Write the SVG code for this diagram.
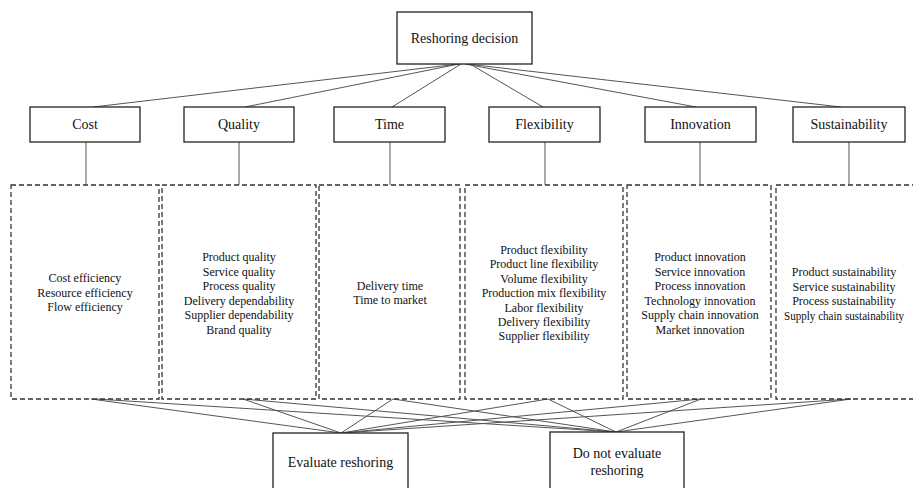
<svg xmlns="http://www.w3.org/2000/svg" width="913" height="488" viewBox="0 0 913 488">
<style>
.box{fill:#fff;stroke:#222;stroke-width:1.3}
.dash{fill:none;stroke:#333;stroke-width:1.3;stroke-dasharray:5,3}
.ln{stroke:#555;stroke-width:1;fill:none}
text{font-family:"Liberation Serif","Times New Roman",serif;fill:#111;text-anchor:middle}
.t14{font-size:14px}
.t12{font-size:12px}
</style>
<rect width="913" height="488" fill="#fff"/>
<g id="connectors">
<line class="ln" x1="459" y1="64" x2="93" y2="107"/>
<line class="ln" x1="459" y1="64" x2="245" y2="107"/>
<line class="ln" x1="461" y1="64" x2="392" y2="107"/>
<line class="ln" x1="470" y1="64" x2="543" y2="107"/>
<line class="ln" x1="465" y1="64" x2="696" y2="107"/>
<line class="ln" x1="467" y1="64" x2="841" y2="107"/>
<line class="ln" x1="86" y1="142" x2="86" y2="185"/>
<line class="ln" x1="239" y1="142" x2="239" y2="185"/>
<line class="ln" x1="390" y1="142" x2="390" y2="185"/>
<line class="ln" x1="545" y1="142" x2="545" y2="185"/>
<line class="ln" x1="700" y1="142" x2="700" y2="185"/>
<line class="ln" x1="849" y1="142" x2="849" y2="185"/>
<line class="ln" x1="91" y1="399" x2="341" y2="433"/>
<line class="ln" x1="96" y1="399" x2="616" y2="432"/>
<line class="ln" x1="243" y1="399" x2="341" y2="433"/>
<line class="ln" x1="243" y1="399" x2="616" y2="432"/>
<line class="ln" x1="393" y1="399" x2="341" y2="433"/>
<line class="ln" x1="393" y1="399" x2="616" y2="432"/>
<line class="ln" x1="548" y1="399" x2="341" y2="433"/>
<line class="ln" x1="548" y1="399" x2="616" y2="432"/>
<line class="ln" x1="701" y1="399" x2="341" y2="433"/>
<line class="ln" x1="701" y1="399" x2="616" y2="432"/>
<line class="ln" x1="851" y1="399" x2="341" y2="433"/>
<line class="ln" x1="851" y1="399" x2="616" y2="432"/>
</g>
<g id="reshoring-decision">
<rect class="box" x="397" y="12" width="135" height="52"/>
<text class="t14" x="464.5" y="43">Reshoring decision</text>
</g>
<g id="cost">
<rect class="box" x="30" y="107" width="110" height="35"/>
<text class="t14" x="85" y="129">Cost</text>
</g>
<g id="quality">
<rect class="box" x="184" y="107" width="110" height="35"/>
<text class="t14" x="239" y="129">Quality</text>
</g>
<g id="time">
<rect class="box" x="334" y="107" width="111" height="35"/>
<text class="t14" x="389.5" y="129">Time</text>
</g>
<g id="flexibility">
<rect class="box" x="489" y="107" width="111" height="35"/>
<text class="t14" x="544.5" y="129">Flexibility</text>
</g>
<g id="innovation">
<rect class="box" x="645" y="107" width="111" height="35"/>
<text class="t14" x="700.5" y="129">Innovation</text>
</g>
<g id="sustainability">
<rect class="box" x="793" y="107" width="112" height="35"/>
<text class="t14" x="849" y="129">Sustainability</text>
</g>
<g id="cost-items">
<rect class="dash" x="11" y="185" width="148" height="214"/>
<text class="t12" x="85"><tspan x="85" y="282">Cost efficiency</tspan><tspan x="85" y="297">Resource efficiency</tspan><tspan x="85" y="311">Flow efficiency</tspan></text>
</g>
<g id="quality-items">
<rect class="dash" x="162" y="185" width="154" height="214"/>
<text class="t12" x="239"><tspan x="239" y="261">Product quality</tspan><tspan x="239" y="275.5">Service quality</tspan><tspan x="239" y="290">Process quality</tspan><tspan x="239" y="304.5">Delivery dependability</tspan><tspan x="239" y="319">Supplier dependability</tspan><tspan x="239" y="333.5">Brand quality</tspan></text>
</g>
<g id="time-items">
<rect class="dash" x="319" y="185" width="141" height="214"/>
<text class="t12" x="390"><tspan x="390" y="290">Delivery time</tspan><tspan x="390" y="304">Time to market</tspan></text>
</g>
<g id="flexibility-items">
<rect class="dash" x="465" y="185" width="158" height="214"/>
<text class="t12" x="544"><tspan x="544" y="254">Product flexibility</tspan><tspan x="544" y="268.4">Product line flexibility</tspan><tspan x="544" y="282.8">Volume flexibility</tspan><tspan x="544" y="297.2">Production mix flexibility</tspan><tspan x="544" y="311.6">Labor flexibility</tspan><tspan x="544" y="326">Delivery flexibility</tspan><tspan x="544" y="340.4">Supplier flexibility</tspan></text>
</g>
<g id="innovation-items">
<rect class="dash" x="627" y="185" width="144" height="214"/>
<text class="t12" x="700"><tspan x="700" y="261">Product innovation</tspan><tspan x="700" y="275.5">Service innovation</tspan><tspan x="700" y="290">Process innovation</tspan><tspan x="700" y="304.5">Technology innovation</tspan><tspan x="700" y="319">Supply chain innovation</tspan><tspan x="700" y="333.5">Market innovation</tspan></text>
</g>
<g id="sustainability-items">
<rect class="dash" x="776" y="185" width="150" height="214"/>
<text class="t12" x="844" y="276">Product sustainability</text>
<text class="t12" x="844" y="290.5">Service sustainability</text>
<text class="t12" x="844" y="305">Process sustainability</text>
<text class="t12" x="844" y="319.5" textLength="120" lengthAdjust="spacingAndGlyphs">Supply chain sustainability</text>
</g>
<g id="evaluate-reshoring">
<rect class="box" x="273" y="433" width="135" height="70"/>
<text class="t14" x="340.5" y="467">Evaluate reshoring</text>
</g>
<g id="do-not-evaluate-reshoring">
<rect class="box" x="550" y="432" width="134" height="70"/>
<text class="t14" x="617"><tspan x="617" y="458">Do not evaluate</tspan><tspan x="617" y="475">reshoring</tspan></text>
</g>
</svg>
